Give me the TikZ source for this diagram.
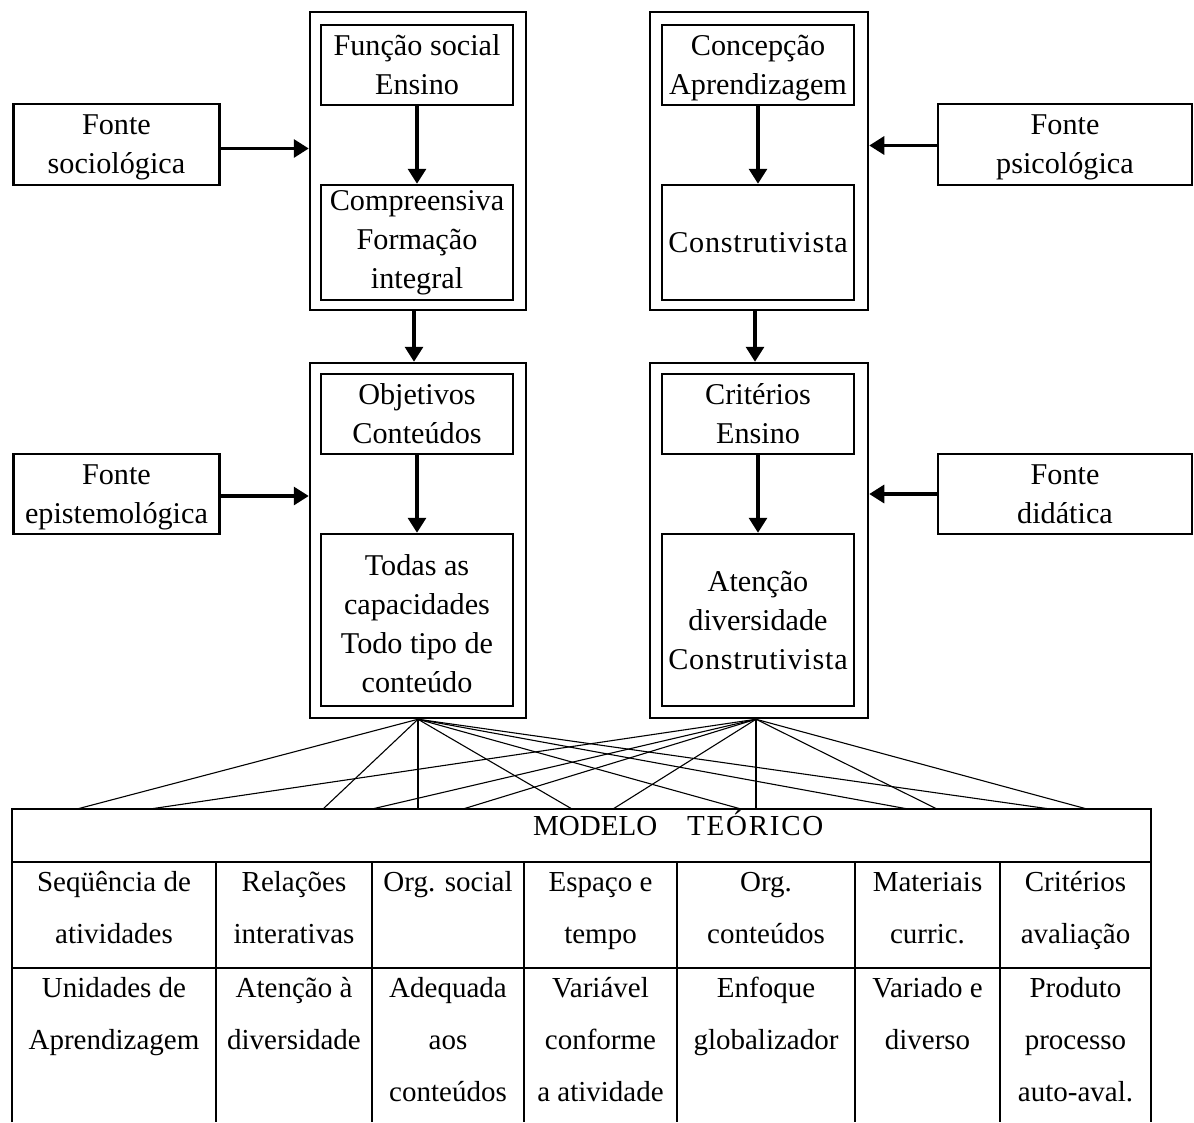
\documentclass[tikz,border=0pt]{standalone}
\usepackage{fontspec}
\setmainfont{Liberation Serif}
\usetikzlibrary{arrows.meta}
\newcommand\cellstrut{\rule{0pt}{29pt}}
\newcommand\spaced[2]{{\addfontfeatures{LetterSpace=#1}#2}}

\begin{document}
\begin{tikzpicture}[x=1pt,y=-1pt,
  box/.style={draw, line width=2.5pt, inner sep=0pt, align=center,
              font=\fontsize{30.2}{39}\selectfont},
  frame/.style={draw, line width=2.5pt, inner sep=0pt},
  arr/.style={line width=3.2pt, -{Triangle[length=15pt,width=18pt]}},
  fan/.style={line width=1.1pt},
  grid/.style={line width=1.4pt},
  cell/.style={anchor=north, inner sep=0pt, align=center,
               font=\fontsize{29}{52}\selectfont}
]
\useasboundingbox (0,0) rectangle (1194,1122);

% sources
\node[box, minimum width=206pt, minimum height=81pt] (socio)  at (116.5,144.5) {\rule{0pt}{26pt}Fonte\\sociológica};
\node[box, minimum width=254pt, minimum height=81pt] (psico)  at (1065,144.5)  {\rule{0pt}{26pt}Fonte\\psicológica};
\node[box, minimum width=206pt, minimum height=80pt] (episte) at (116.5,494)   {\rule{0pt}{26pt}Fonte\\epistemológica};
\node[box, minimum width=254pt, minimum height=80pt] (didat)  at (1065,494)    {Fonte\\didática};

% upper frames
\node[frame, minimum width=216pt, minimum height=298pt] (L1) at (418,161) {};
\node[box, minimum width=192pt, minimum height=80pt]  (L1a) at (417,65)    {Função social\\Ensino};
\node[box, minimum width=192pt, minimum height=115pt] (L1b) at (417,242.5) {Compreensiva\\Formação\\integral};

\node[frame, minimum width=218pt, minimum height=298pt] (R1) at (759,161) {};
\node[box, minimum width=192pt, minimum height=80pt]  (R1a) at (758,65)    {\rule{0pt}{26pt}Concepção\\Aprendizagem};
\node[box, minimum width=192pt, minimum height=115pt] (R1b) at (758,242.5) {\spaced{2.5}{Construtivista}};

% lower frames
\node[frame, minimum width=216pt, minimum height=355pt] (L2) at (418,540.5) {};
\node[box, minimum width=192pt, minimum height=80pt]  (L2a) at (417,414) {Objetivos\\Conteúdos};
\node[box, minimum width=192pt, minimum height=172pt] (L2b) at (417,620) {\rule{0pt}{28pt}Todas as\\capacidades\\Todo tipo de\\conteúdo};

\node[frame, minimum width=218pt, minimum height=355pt] (R2) at (759,540.5) {};
\node[box, minimum width=192pt, minimum height=80pt]  (R2a) at (758,414) {Critérios\\Ensino};
\node[box, minimum width=192pt, minimum height=172pt] (R2b) at (758,620) {Atenção\\diversidade\\\spaced{2.5}{Construtivista}};

% arrows
\draw[arr] (L1a) -- (L1b);
\draw[arr] (R1a) -- (R1b);
\draw[arr] (L2a) -- (L2b);
\draw[arr] (R2a) -- (R2b);
\draw[arr] ([xshift=-4pt]L1.south) -- ([xshift=-4pt]L2.north);
\draw[arr] ([xshift=-4pt]R1.south) -- ([xshift=-4pt]R2.north);
\draw[arr] ([yshift=-4pt]socio.east) -- ([yshift=-4pt]socio.east -| L1.west);
\draw[arr] ([yshift=-1pt]psico.west) -- ([yshift=-1pt]psico.west -| R1.east);
\draw[arr] ([yshift=-2pt]episte.east) -- ([yshift=-2pt]episte.east -| L2.west);
\draw[arr] (didat.west) -- (didat.west -| R2.east);

% table
\draw[grid] (12,1122) -- (12,809) -- (1151,809) -- (1151,1122);
\draw[grid] (12,862) -- (1151,862);
\draw[grid] (12,968) -- (1151,968);
\foreach \cx in {216,372,524,677,855,1000}
  \draw[grid] (\cx,862) -- (\cx,1122);

\node[anchor=base west, inner sep=0pt, font=\fontsize{29}{35}\selectfont] (mt) at (533,835)
  {MODELO\hspace{30pt}\spaced{6}{TEÓRICO}};

\node[cell] (a1) at (114,862)    {\cellstrut Seqüência de\\atividades};
\node[cell] (a2) at (294,862)    {\cellstrut Relações\\interativas};
\node[cell] (a3) at (448,862)    {\cellstrut Org. social};
\node[cell] (a4) at (600.5,862)  {\cellstrut Espaço e\\tempo};
\node[cell] (a5) at (766,862)    {\cellstrut Org.\\conteúdos};
\node[cell] (a6) at (927.5,862)  {\cellstrut Materiais\\curric.};
\node[cell] (a7) at (1075.5,862) {\cellstrut Critérios\\avaliação};

\node[cell] (b1) at (114,968)    {\cellstrut Unidades de\\Aprendizagem};
\node[cell] (b2) at (294,968)    {\cellstrut Atenção à\\diversidade};
\node[cell] (b3) at (448,968)    {\cellstrut Adequada\\aos\\conteúdos};
\node[cell] (b4) at (600.5,968)  {\cellstrut Variável\\conforme\\a atividade};
\node[cell] (b5) at (766,968)    {\cellstrut Enfoque\\globalizador};
\node[cell] (b6) at (927.5,968)  {\cellstrut Variado e\\diverso};
\node[cell] (b7) at (1075.5,968) {\cellstrut Produto\\processo\\auto-aval.};

% fan of links from the lower frames to the table
\foreach \n/\px in {l1/77,l2/323,l3/418,l4/572,l5/741,l6/908,l7/1050}
  \coordinate (\n) at (\px,809);
\foreach \n/\px in {r1/150,r2/372,r3/463,r4/613,r5/756,r6/937,r7/1087}
  \coordinate (\n) at (\px,809);
\foreach \n in {l1,l2,l3,l4,l5,l6,l7}
  \draw[fan] (L2.south) -- (\n);
\foreach \n in {r1,r2,r3,r4,r5,r6,r7}
  \draw[fan] ([xshift=-3pt]R2.south) -- (\n);
\end{tikzpicture}
\end{document}
